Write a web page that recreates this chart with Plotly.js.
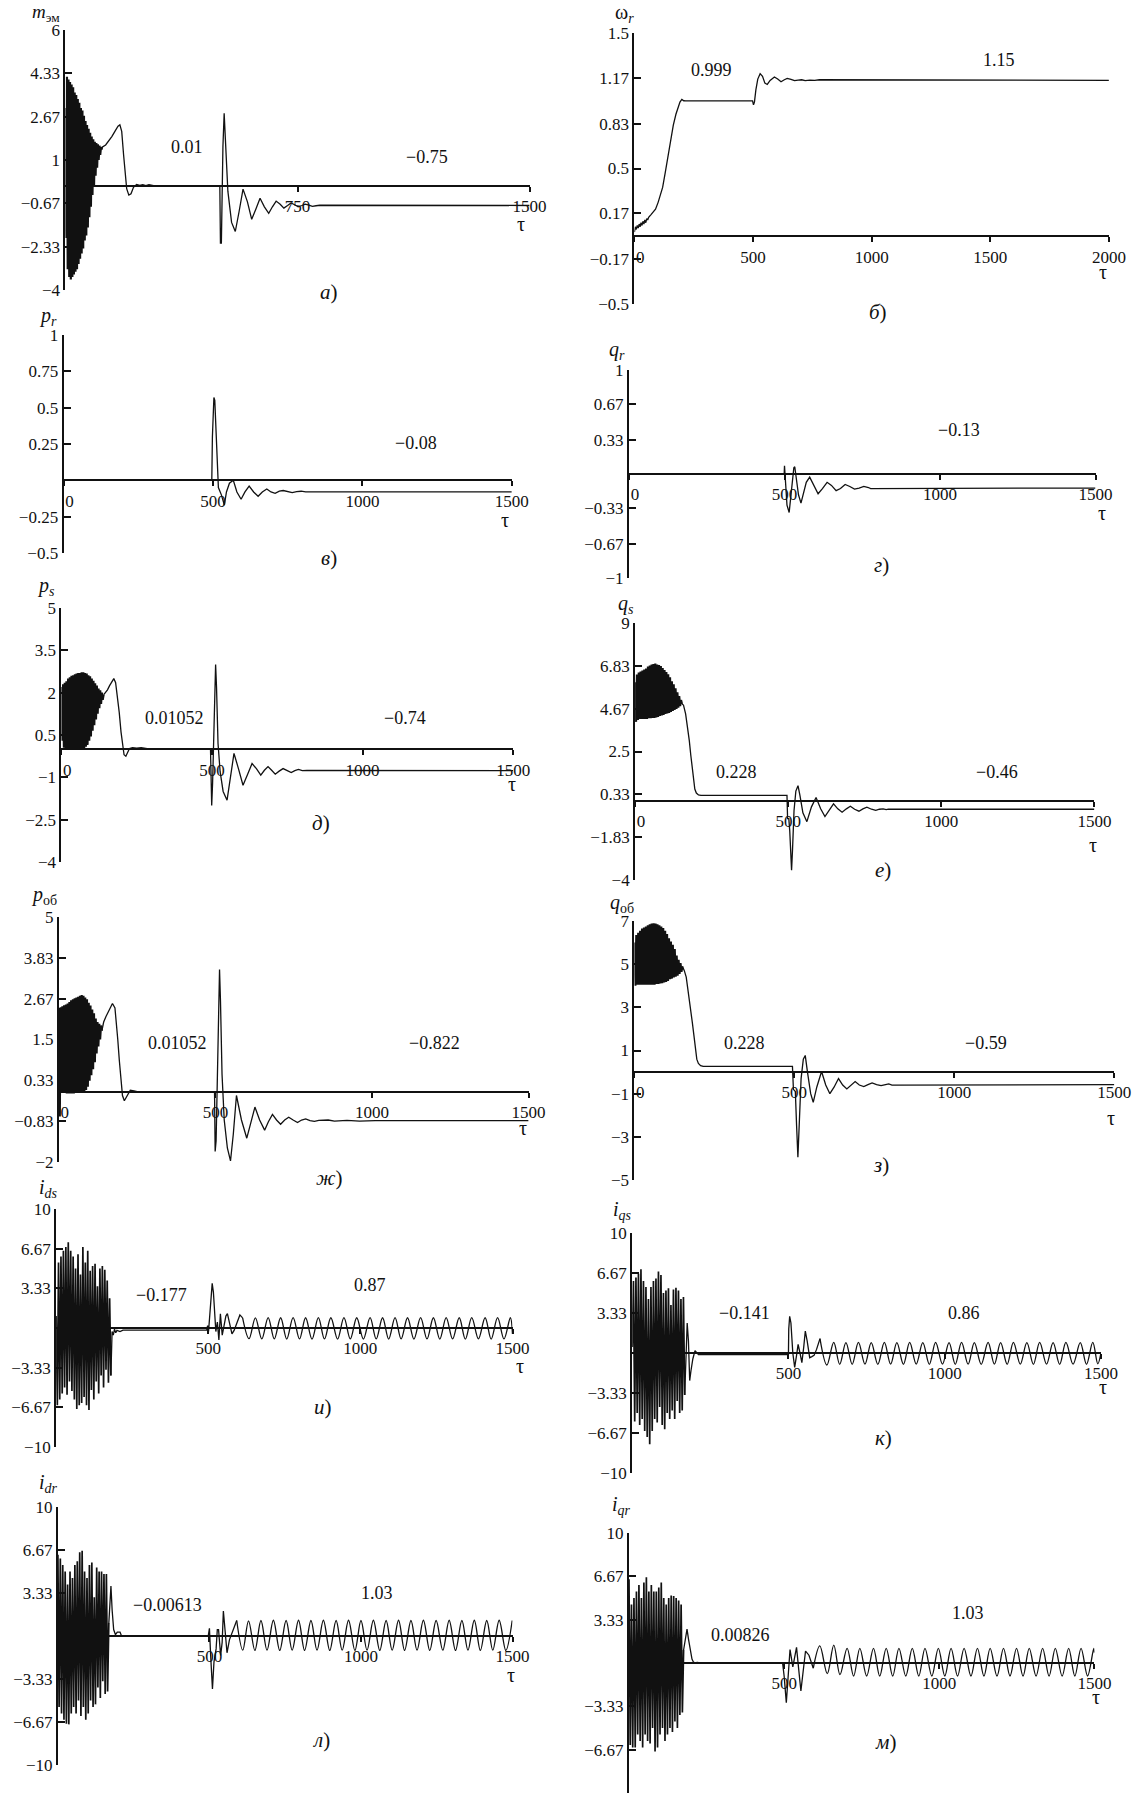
<!DOCTYPE html>
<html><head><meta charset="utf-8">
<script src="https://cdn.plot.ly/plotly-3.0.1.min.js"></script>
<style>html,body{margin:0;padding:0;background:#fff;}#chart{width:1137px;height:1802px;}</style>
</head><body><div id="chart"></div>
<script>
// ---------- DATA ----------
// а) m_эм
const memBurstT = [0,2.5,5,7.5,10,12.5,15,17.5,20,22.5,25,27.5,30,32.5,35,37.5,40,42.5,45,47.5,50,52.5,55,57.5,60,62.5,65,67.5,70,72.5,75,77.5,80,82.5,85,87.5,90,92.5,95,97.5,100,102.5,105,107.5,110,112.5,115,117.5];
const memBurstV = [3.0,-2.0,4.2,-3.2,4.1,-3.5,4.0,-3.6,3.9,-3.5,3.8,-3.4,3.6,-3.3,3.5,-3.2,3.35,-3.0,3.2,-2.8,3.0,-2.6,2.9,-2.4,2.7,-2.1,2.5,-1.9,2.35,-1.6,2.2,-1.2,2.05,-0.8,1.9,-0.35,1.8,0.0,1.7,0.4,1.65,0.7,1.6,1.0,1.55,1.2,1.5,1.4];
const memRestT = [117.5,120,130,140,150,160,170,176,182,188,193,198,205,212,220,230,240,250,260,270,285,
  499,501,504,509,513,517,525,537,549,561,574,588,602,615,629,643,657,669,681,694,706,718,729,741,752,764,775,787,798,810,822,1500];
const memRestV = [1.4,1.5,1.58,1.72,1.9,2.1,2.3,2.35,2.1,1.2,0.4,-0.1,-0.35,-0.3,-0.05,0.06,0.02,0.05,0.01,0.05,0.01,
  0.01,-2.2,-2.2,1.5,2.8,1.8,-0.2,-1.4,-1.75,-1.0,-0.12,-0.6,-1.28,-0.9,-0.47,-0.8,-1.05,-0.8,-0.58,-0.7,-0.85,-0.75,-0.65,-0.72,-0.8,-0.75,-0.7,-0.74,-0.78,-0.76,-0.74,-0.75];
// б) omega_r
const omegaT = [0,4,8,12,16,20,24,28,32,36,40,44,48,52,56,60,70,80,89,100,110,119,130,142,153,164,175,184,192,200,208,216,
  498,502,506,512,520,530,540,550,560,572,590,604,618,632,644,660,675,690,705,720,740,760,780,2000];
const omegaV = [0.03,0.07,0.05,0.08,0.06,0.09,0.07,0.1,0.08,0.11,0.09,0.12,0.1,0.13,0.12,0.14,0.16,0.18,0.2,0.25,0.3,0.36,0.47,0.6,0.71,0.82,0.9,0.95,0.99,1.01,1.0,0.999,
  0.999,0.97,0.99,1.08,1.16,1.2,1.18,1.13,1.12,1.15,1.175,1.16,1.14,1.155,1.165,1.158,1.148,1.152,1.155,1.148,1.152,1.15,1.155,1.15];
// в) p_r
const prT = [0,496,498,500,503,506,510,514,518,528,538,545,555,568,580,594,607,621,636,651,665,680,694,708,722,735,750,765,780,795,810,1500];
const prV = [0,0,0.3,0.5,0.57,0.55,0.35,0.1,-0.05,-0.1,-0.17,-0.08,-0.02,0.0,-0.08,-0.13,-0.08,-0.04,-0.08,-0.11,-0.08,-0.06,-0.08,-0.09,-0.075,-0.07,-0.08,-0.085,-0.078,-0.075,-0.08,-0.08];
// г) q_r
const qrT = [0,499,500,503,508,515,520,525,530,533,538,545,553,560,570,581,594,608,622,637,651,666,680,695,710,725,740,755,770,777,1500];
const qrV = [0,0,0.08,-0.1,-0.3,-0.37,-0.2,-0.05,0.06,0.07,-0.05,-0.2,-0.28,-0.2,-0.08,-0.03,-0.1,-0.19,-0.14,-0.08,-0.11,-0.16,-0.14,-0.1,-0.12,-0.145,-0.135,-0.12,-0.13,-0.14,-0.135];
// д) p_s
const psBurstT = [0,2.8,5.6,8.4,11.2,14,16.8,19.6,22.4,25.2,28,30.8,33.6,36.4,39.2,42,44.8,47.6,50.4,53.2,56,58.8,61.6,64.4,67.2,70,72.8,75.6,78.4,81.2,84,86.8,89.6,92.4,95.2,98,100.8,103.6,106.4,109.2,112,114.8,117.6,120.4,123.2,126,128.8,131.6,134.4,137.2,140];
const psBurstV = [2.2,0.3,2.3,0.05,2.35,0.0,2.4,0.0,2.5,0.0,2.55,0.0,2.6,0.0,2.62,0.0,2.65,0.0,2.68,0.0,2.7,0.0,2.7,0.0,2.72,0.02,2.72,0.03,2.7,0.08,2.68,0.15,2.62,0.3,2.58,0.45,2.5,0.65,2.42,0.85,2.33,1.05,2.25,1.25,2.15,1.45,2.08,1.6,2.0,1.75,1.92];
const psRestT = [140,146,153,160,167,174,180,186,192,198,203,208,214,220,226,236,250,265,283,290,495,497,499,502,506,510,512,515,520,527,537,550,561,573,588,603,618,633,648,662,674,686,698,710,723,736,750,763,775,787,800,815,1500];
const psRestV = [1.92,2.0,2.1,2.25,2.4,2.5,2.35,1.9,1.3,0.6,0.1,-0.2,-0.25,-0.1,0.02,0.05,0.03,0.05,0.04,0.01,0.01,-1.0,-2.0,-1.2,1.0,2.6,3.0,2.2,0.2,-0.8,-1.5,-1.81,-1.0,-0.15,-0.7,-1.28,-0.9,-0.51,-0.7,-0.92,-0.75,-0.62,-0.75,-0.89,-0.78,-0.69,-0.76,-0.83,-0.76,-0.72,-0.76,-0.75,-0.76];
// е) q_s
const qsBurstT = [0,3,6,9,12,15,18,21,24,27,30,33,36,39,42,45,48,51,54,57,60,63,66,69,72,75,78,81,84,87,90,93,96,99,102,105,108,111,114,117,120,123,126,129,132,135,138,141,144,147,150,153];
const qsBurstV = [6.0,4.0,6.4,4.1,6.5,4.15,6.55,4.15,6.6,4.15,6.65,4.15,6.7,4.15,6.8,4.18,6.85,4.18,6.9,4.2,6.92,4.2,6.95,4.22,6.9,4.25,6.88,4.3,6.82,4.32,6.72,4.35,6.62,4.4,6.52,4.42,6.4,4.45,6.25,4.5,6.05,4.55,5.9,4.6,5.7,4.65,5.5,4.72,5.3,4.8,5.1,4.9];
const qsRestT = [153,158,165,171,177,182,187,191,195,200,207,215,496,498,502,505,508,511,514,519,525,532,538,548,561,576,591,606,620,634,648,662,676,690,703,717,731,744,757,772,786,798,810,820,827,1500];
const qsRestV = [4.9,4.85,4.4,3.8,3.05,2.3,1.6,1.0,0.6,0.4,0.3,0.28,0.28,-0.9,-0.9,-1.5,-3.0,-3.5,-2.5,-0.5,0.5,0.77,0.3,-0.6,-1.05,-0.3,0.17,-0.4,-0.79,-0.45,-0.15,-0.4,-0.57,-0.4,-0.27,-0.42,-0.52,-0.4,-0.32,-0.42,-0.48,-0.42,-0.4,-0.44,-0.42,-0.42];
// ж) p_об
const pobBurstT = [0,2.8,5.6,8.4,11.2,14,16.8,19.6,22.4,25.2,28,30.8,33.6,36.4,39.2,42,44.8,47.6,50.4,53.2,56,58.8,61.6,64.4,67.2,70,72.8,75.6,78.4,81.2,84,86.8,89.6,92.4,95.2,98,100.8,103.6,106.4,109.2,112,114.8,117.6,120.4,123.2,126,128.8,131.6,134.4,137.2];
const pobBurstV = [2.4,-0.7,2.42,0.0,2.45,-0.02,2.48,-0.03,2.5,-0.04,2.53,-0.04,2.57,-0.04,2.62,-0.04,2.65,-0.04,2.68,-0.03,2.7,-0.03,2.72,-0.03,2.75,-0.02,2.77,0.0,2.75,0.02,2.7,0.06,2.65,0.15,2.55,0.32,2.47,0.48,2.36,0.65,2.25,0.85,2.1,1.1,2.0,1.3,1.95,1.5,1.9,1.75];
const pobRestT = [137.2,143,150,160,171,179,184,188,193,197,203,209,215,220,228,240,250,497,499,502,507,511,513,516,521,528,538,548,557,567,583,600,613,626,641,657,669,682,695,708,721,734,748,762,775,788,802,816,830,860,880,920,960,1000,1010,1500];
const pobRestV = [1.75,2.0,2.15,2.35,2.53,2.4,2.0,1.5,0.9,0.5,-0.1,-0.25,-0.15,-0.05,0.05,0.03,0.0105,0.0105,-1.7,-1.4,1.2,3.0,3.5,2.6,0.5,-0.8,-1.6,-1.97,-1.2,-0.1,-0.8,-1.32,-0.9,-0.43,-0.8,-1.09,-0.85,-0.64,-0.8,-0.92,-0.8,-0.72,-0.8,-0.87,-0.8,-0.77,-0.82,-0.84,-0.81,-0.8,-0.83,-0.81,-0.83,-0.81,-0.82,-0.82];
// з) q_об
const qobBurstT = [0,3,6,9,12,15,18,21,24,27,30,33,36,39,42,45,48,51,54,57,60,63,66,69,72,75,78,81,84,87,90,93,96,99,102,105,108,111,114,117,120,123,126,129,132,135,138,141,144,147,150];
const qobBurstV = [6.0,4.0,6.35,4.05,6.45,4.05,6.55,4.05,6.65,4.05,6.7,4.05,6.75,4.05,6.8,4.05,6.85,4.05,6.88,4.05,6.9,4.05,6.88,4.08,6.85,4.08,6.8,4.1,6.75,4.12,6.68,4.15,6.55,4.18,6.4,4.22,6.2,4.3,6.05,4.33,5.9,4.38,5.7,4.42,5.4,4.47,5.2,4.55,5.05,4.65,4.9];
const qobRestT = [150,156,162,167,172,176,181,186,191,195,200,207,215,494,497,503,507,511,515,521,528,534,541,551,559,570,585,598,611,624,638,651,664,677,690,703,717,730,743,757,771,785,795,805,1500];
const qobRestV = [4.9,4.7,4.4,3.9,3.4,2.9,2.3,1.7,1.0,0.6,0.4,0.3,0.26,0.26,-0.8,-0.9,-2.5,-3.94,-2.5,-0.3,0.6,0.77,0.0,-1.0,-1.4,-0.7,0.03,-0.6,-1.0,-0.7,-0.3,-0.6,-0.78,-0.6,-0.44,-0.6,-0.67,-0.58,-0.5,-0.58,-0.63,-0.58,-0.55,-0.6,-0.58];
// и) i_ds
const idsBurstT = [0,4,8,12,16,20,24,28,32,36,40,44,48,52,56,60,64,68,72,76,80,84,88,92,96,100,104,108,112,116,120,124,128,132,136,140,144,148,152,156,160,164,168,172,176,180];
const idsBurstV = [1.0,-6.5,5.5,-6.0,6.0,-5.5,6.5,-5.0,6.8,-5.6,7.2,-4.5,6.5,-5.3,6.0,-6.0,5.0,-6.8,6.2,-6.5,4.5,-6.3,6.8,-5.8,5.5,-6.5,6.5,-6.9,4.8,-5.2,5.2,-6.0,5.4,-4.5,3.5,-5.5,5.0,-4.0,5.2,-5.0,4.9,-3.5,4.0,-4.6,2.5,-4.0];
const idsRestT = [180,184,188,192,196,200,210,220,495,498,501,505,510,513,517,521,525,530,535,540,546,552,558,563,570,578,585,595,604,613];
const idsRestV = [-4.0,-0.3,-0.6,-0.1,-0.4,-0.2,-0.3,-0.18,-0.18,0.2,-0.3,1.0,3.2,3.75,3.0,1.0,-0.3,0.5,-1.0,1.2,-0.6,0.2,1.0,1.2,0.3,-0.5,-0.2,0.4,1.1,0.85];
const idsWaveT = [613,634,655,676,697,717,738,758,779,800,820,841,862,882,903,925,946,967,988,1010,1032,1052,1073,1093,1114,1134,1155,1176,1198,1219,1240,1261,1282,1303,1325,1345,1366,1388,1410,1430,1451,1472,1493,1500];
const idsWaveV = [0.85,-0.9,0.85,-0.92,0.88,-0.92,0.86,-0.93,0.87,-0.92,0.86,-0.93,0.87,-0.92,0.86,-0.93,0.87,-0.92,0.86,-0.93,0.87,-0.92,0.86,-0.93,0.87,-0.92,0.86,-0.93,0.87,-0.92,0.86,-0.93,0.87,-0.92,0.86,-0.93,0.87,-0.92,0.86,-0.93,0.87,-0.92,0.86,-0.5];
// к) i_qs
const iqsBurstT = [0,4,8,12,16,20,24,28,32,36,40,44,48,52,56,60,64,68,72,76,80,84,88,92,96,100,104,108,112,116,120,124,128,132,136,140,144,148,152,156,160,164,168];
const iqsBurstV = [0.5,6.0,-5.7,6.3,-5.0,6.6,-6.0,6.97,-5.5,6.0,-6.5,5.5,-7.0,4.5,-7.6,5.5,-6.5,6.0,-5.5,6.2,-5.8,6.8,-4.5,6.5,-6.0,5.0,-6.36,5.2,-5.0,5.4,-5.5,4.0,-4.8,5.3,-5.5,5.44,-4.0,5.2,-5.0,4.5,-4.8,4.67,-3.5];
const iqsRestT = [168,172,176,180,184,188,194,201,206,212,500,501,504,508,514,520,526,531,537,543,549,554,560,568,575,582,590,601];
const iqsRestV = [-3.5,0.5,2.5,1.0,-2.3,-1.5,-0.5,0.2,0.0,-0.14,-0.14,2.0,3.06,2.5,0.0,-1.2,-0.2,0.72,0.0,-0.8,0.5,1.83,1.0,-0.39,-0.3,-0.2,0.3,1.2];
const iqsWaveT = [601,623,645,664,684,704,724,745,765,786,807,827,847,868,888,909,930,951,971,993,1014,1034,1054,1075,1095,1117,1139,1159,1179,1200,1220,1242,1263,1284,1304,1326,1347,1368,1388,1411,1434,1454,1474,1490,1500];
const iqsWaveV = [1.2,-1.0,0.88,-0.94,0.86,-0.94,0.88,-0.93,0.86,-0.94,0.88,-0.93,0.86,-0.94,0.88,-0.93,0.86,-0.94,0.88,-0.93,0.86,-0.94,0.88,-0.93,0.86,-0.94,0.88,-0.93,0.86,-0.94,0.88,-0.93,0.86,-0.94,0.88,-0.93,0.86,-0.94,0.88,-0.93,0.86,-0.94,0.88,-0.9,0.0];
// л) i_dr
const idrBurstT = [0,4,8,12,16,20,24,28,32,36,40,44,48,52,56,60,64,68,72,76,80,84,88,92,96,100,104,108,112,116,120,124,128,132,136,140,144,148,152,156,160,164,168];
const idrBurstV = [6.3,-5.5,6.0,-6.0,5.5,-6.5,5.0,-6.8,4.0,-6.85,5.0,-6.0,4.5,-5.5,5.5,-6.0,5.8,-5.0,6.5,-6.2,6.6,-5.5,5.0,-6.5,4.5,-6.0,5.5,-5.0,5.7,-5.5,3.0,-5.3,5.3,-4.0,5.0,-4.8,5.0,-3.5,4.8,-4.5,4.8,-4.3,1.0];
const idrRestT = [168,172,175,179,184,190,196,205,210,496,500,504,510,515,522,526,530,537,542,546,552,558,566,576,590];
const idrRestV = [1.0,3.2,3.88,2.0,0.5,0.1,0.3,0.3,0.0,-0.006,0.6,-1.5,-4.1,-2.0,-1.0,0.5,0.5,-1.5,-0.5,1.94,0.5,-1.3,-0.3,0.4,1.2];
const idrWaveT = [590,610,629,650,670,690,711,732,753,773,794,814,835,855,876,897,918,938,959,980,1000,1020,1041,1062,1083,1103,1124,1144,1165,1185,1206,1227,1248,1270,1291,1312,1333,1353,1374,1394,1415,1435,1456,1478,1499];
const idrWaveV = [1.2,-1.1,1.18,-1.12,1.2,-1.1,1.22,-1.12,1.2,-1.1,1.22,-1.12,1.2,-1.1,1.22,-1.12,1.2,-1.1,1.22,-1.12,1.2,-1.1,1.22,-1.12,1.2,-1.1,1.22,-1.12,1.2,-1.1,1.22,-1.12,1.2,-1.1,1.22,-1.12,1.2,-1.1,1.22,-1.12,1.2,-1.1,1.22,-1.12,1.2];
// м) i_qr
const iqrBurstT = [0,4,8,12,16,20,24,28,32,36,40,44,48,52,56,60,64,68,72,76,80,84,88,92,96,100,104,108,112,116,120,124,128,132,136,140,144,148,152,156,160,164,168,172,176];
const iqrBurstV = [6.44,-6.3,4.5,-6.5,5.0,-6.5,5.5,-5.5,6.0,-6.0,5.0,-6.5,6.2,-5.5,6.6,-6.0,5.5,-6.2,6.0,-5.0,5.5,-6.8,5.5,-6.5,5.8,-5.5,6.2,-5.0,5.0,-6.0,4.5,-5.5,5.0,-5.0,5.2,-5.3,5.15,-4.5,5.0,-5.0,4.8,-4.0,4.5,-3.8,1.0];
const iqrRestT = [176,182,187,192,198,203,207,212,220,230,495,500,507,512,519,528,540,547,554,562,569,580,594];
const iqrRestV = [1.0,2.0,2.6,1.8,1.0,0.3,0.1,0.0,0.05,0.008,0.008,-1.0,-3.05,-1.0,1.04,-0.3,1.2,-0.5,-2.15,-0.5,0.92,0.6,-0.4];
const iqrWaveT = [594,615,639,660,680,703,724,744,766,788,808,829,850,870,892,913,934,954,976,997,1018,1038,1059,1080,1102,1123,1144,1164,1186,1207,1228,1249,1270,1290,1312,1333,1354,1374,1396,1417,1437,1457,1478,1498,1500];
const iqrWaveV = [-0.4,1.31,-0.82,1.38,-0.9,1.13,-1.0,1.13,-1.0,1.12,-1.0,1.13,-1.0,1.13,-1.0,1.12,-1.0,1.13,-1.0,1.13,-1.0,1.12,-1.0,1.13,-1.0,1.13,-1.0,1.12,-1.0,1.13,-1.0,1.13,-1.0,1.12,-1.0,1.13,-1.0,1.13,-1.0,1.12,-1.0,1.13,-1.0,1.13,0.8];

// ---------- TICK LABELS ----------
const memTicks = [6,4.33,2.67,1,-0.67,-2.33,-4];
const omegaTicks = [1.5,1.17,0.83,0.5,0.17,-0.17,-0.5];
const prTicks = [1,0.75,0.5,0.25,-0.25,-0.5];
const qrTicks = [1,0.67,0.33,-0.33,-0.67,-1];
const psTicks = [5,3.5,2,0.5,-1,-2.5,-4];
const qsTicks = [9,6.83,4.67,2.5,0.33,-1.83,-4];
const pobTicks = [5,3.83,2.67,1.5,0.33,-0.83,-2];
const qobTicks = [7,5,3,1,-1,-3,-5];
const currentTicks = [10,6.67,3.33,-3.33,-6.67,-10];
const tauTicksA = [750,1500];
const tauTicks = [0,500,1000,1500];
const tauTicksB = [0,500,1000,1500,2000];
const tauTicksI = [500,1000,1500];

// ---------- TEXTS ----------
const varNames = ['<i>m</i><sub>эм</sub>','ω<sub><i>r</i></sub>','<i>p<sub>r</sub></i>','<i>q<sub>r</sub></i>','<i>p<sub>s</sub></i>','<i>q<sub>s</sub></i>',
  '<i>p</i><sub>об</sub>','<i>q</i><sub>об</sub>','<i>i<sub>ds</sub></i>','<i>i<sub>qs</sub></i>','<i>i<sub>dr</sub></i>','<i>i<sub>qr</sub></i>'];
const panelLetters = ['а','б','в','г','д','е','ж','з','и','к','л','м'];
const valueNotes = [['0.01','\u22120.75'],['0.999','1.15'],['\u22120.08'],['\u22120.13'],['0.01052','\u22120.74'],['0.228','\u22120.46'],
  ['0.01052','\u22120.822'],['0.228','\u22120.59'],['\u22120.177','0.87'],['\u22120.141','0.86'],['\u22120.00613','1.03'],['0.00826','1.03']];
const axisName = 'τ';

// ---------- LAYOUT (pixel geometry) ----------
const W = 1137, H = 1802;
const FONT = 'Liberation Serif';
const INK = '#111111';
const panels = [
  {tr:[[memBurstT,memBurstV,'b'],[memRestT,memRestV,'linear']], xr:[0,1500], yr:[-4,6], box:[65.4,529.6,30,290], xt:tauTicksA, yt:memTicks,
   title:[46,13], letter:[329,292], notes:[[187,147],[427,157]], tau:[521,224]},
  {tr:[[omegaT,omegaV,'linear']], xr:[0,2000], yr:[-0.5,1.5], box:[634.4,1108.9,33,304], xt:tauTicksB, yt:omegaTicks,
   title:[624,14], letter:[878,312], notes:[[711,70],[999,60]], tau:[1103,272]},
  {tr:[[prT,prV,'linear']], xr:[0,1500], yr:[-0.5,1], box:[63.6,511.8,335,553], xt:tauTicks, yt:prTicks,
   title:[48,316], letter:[329,558], notes:[[416,443]], tau:[505,520]},
  {tr:[[qrT,qrV,'linear']], xr:[0,1500], yr:[-1,1], box:[629,1095.5,370,578], xt:tauTicks, yt:qrTicks,
   title:[617,350], letter:[881,565], notes:[[959,430]], tau:[1102,513]},
  {tr:[[psBurstT,psBurstV,'b'],[psRestT,psRestV,'linear']], xr:[0,1500], yr:[-4,5], box:[61.4,513.2,608,862], xt:tauTicks, yt:psTicks,
   title:[46,586], letter:[321,823], notes:[[174,718],[405,718]], tau:[512,784]},
  {tr:[[qsBurstT,qsBurstV,'b'],[qsRestT,qsRestV,'linear']], xr:[0,1500], yr:[-4,9], box:[635.1,1094.4,623,880], xt:tauTicks, yt:qsTicks,
   title:[626,604], letter:[883,870], notes:[[736,772],[997,772]], tau:[1093,845]},
  {tr:[[pobBurstT,pobBurstV,'b'],[pobRestT,pobRestV,'linear']], xr:[0,1500], yr:[-2,5], box:[58.9,528.6,917,1162], xt:tauTicks, yt:pobTicks,
   title:[44,896], letter:[329,1178], notes:[[177,1043],[434,1043]], tau:[523,1128]},
  {tr:[[qobBurstT,qobBurstV,'b'],[qobRestT,qobRestV,'linear']], xr:[0,1500], yr:[-5,7], box:[634.4,1114.3,921,1180], xt:tauTicks, yt:qobTicks,
   title:[622,903], letter:[881,1165], notes:[[744,1043],[986,1043]], tau:[1111,1118]},
  {tr:[[idsBurstT,idsBurstV,'b2'],[idsRestT,idsRestV,'linear'],[idsWaveT,idsWaveV,'spline']], xr:[0,1500], yr:[-10,10], box:[56.1,512.5,1209,1447], xt:tauTicksI, yt:currentTicks,
   title:[48,1188], letter:[323,1407], notes:[[161,1295],[370,1285]], tau:[520,1366]},
  {tr:[[iqsBurstT,iqsBurstV,'b2'],[iqsRestT,iqsRestV,'linear'],[iqsWaveT,iqsWaveV,'spline']], xr:[0,1500], yr:[-10,10], box:[632.2,1100.9,1233,1473], xt:tauTicksI, yt:currentTicks,
   title:[622,1210], letter:[883,1438], notes:[[744,1313],[964,1313]], tau:[1103,1387]},
  {tr:[[idrBurstT,idrBurstV,'b2'],[idrRestT,idrRestV,'linear'],[idrWaveT,idrWaveV,'spline']], xr:[0,1500], yr:[-10,10], box:[57.9,512.5,1507,1765], xt:tauTicksI, yt:currentTicks,
   title:[48,1483], letter:[321,1740], notes:[[167,1605],[377,1593]], tau:[511,1675]},
  {tr:[[iqrBurstT,iqrBurstV,'b2'],[iqrRestT,iqrRestV,'linear'],[iqrWaveT,iqrWaveV,'spline']], xr:[0,1500], yr:[-10,10], box:[629,1094.4,1533,1793], xt:tauTicksI, yt:currentTicks,
   title:[621,1505], letter:[885,1742], notes:[[740,1635],[968,1613]], tau:[1096,1697]}
];

function fmt(v){ if (v === 0) return '\u2002\u20090'; return (v < 0 ? '\u2212' : '') + Math.abs(v); }
function ann(text, p, size){
  return {text:text, xref:'paper', yref:'paper', x:p[0]/W, y:1-p[1]/H, xanchor:'center', yanchor:'middle',
    showarrow:false, font:{family:FONT, size:size, color:INK}};
}
const lineStyle = {
  linear:{width:1.3, shape:'linear'},
  spline:{width:1.3, shape:'spline', smoothing:1},
  b:{width:2.2, shape:'linear'},
  b2:{width:1.7, shape:'linear'}
};

const data = [];
const layout = {width:W, height:H, margin:{l:0,r:0,t:0,b:0}, paper_bgcolor:'#fff', plot_bgcolor:'rgba(0,0,0,0)',
  showlegend:false, font:{family:FONT, color:INK, size:17}, annotations:[]};

panels.forEach(function(p, i){
  const n = i + 1, sfx = n === 1 ? '' : String(n);
  const [xL, xR, yT, yB] = p.box;
  const zeroPx = yT + (p.yr[1] / (p.yr[1] - p.yr[0])) * (yB - yT);
  layout['xaxis' + sfx] = {domain:[xL/W, xR/W], range:p.xr, anchor:'free', position:1 - zeroPx/H,
    showline:true, linecolor:INK, linewidth:2, ticks:'outside', ticklen:5, tickwidth:2, tickcolor:INK,
    tickmode:'array', tickvals:p.xt, ticktext:p.xt.map(fmt), tickfont:{family:FONT, size:17, color:INK},
    showgrid:false, zeroline:false, fixedrange:true};
  layout['yaxis' + sfx] = {domain:[1 - yB/H, 1 - yT/H], range:p.yr, anchor:'x' + sfx,
    showline:true, linecolor:INK, linewidth:2, ticks:'inside', ticklen:7, tickwidth:2, tickcolor:INK,
    tickmode:'array', tickvals:p.yt, ticktext:p.yt.map(fmt), tickfont:{family:FONT, size:17, color:INK},
    showgrid:false, zeroline:false, fixedrange:true};
  p.tr.forEach(function(t){
    const st = lineStyle[t[2]];
    const line = {color:INK, width:st.width, shape:st.shape};
    if (st.smoothing) line.smoothing = st.smoothing;
    data.push({x:t[0], y:t[1], xaxis:'x' + sfx, yaxis:'y' + sfx, mode:'lines', hoverinfo:'skip', line:line});
  });
  layout.annotations.push(ann(varNames[i], p.title, i === 0 ? 19 : 20));
  layout.annotations.push(ann('<i>' + panelLetters[i] + '</i>)', p.letter, 21));
  valueNotes[i].forEach(function(txt, k){ layout.annotations.push(ann(txt, p.notes[k], 18)); });
  layout.annotations.push(ann(axisName, p.tau, 20));
});

Plotly.newPlot('chart', data, layout, {staticPlot:true, displayModeBar:false});
</script></body></html>
